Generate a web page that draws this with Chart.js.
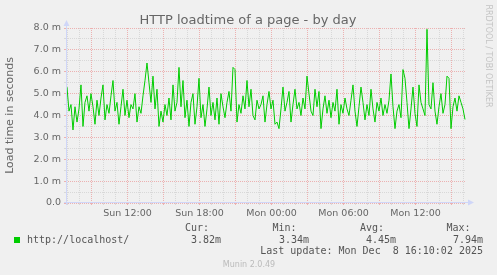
<!DOCTYPE html>
<html>
<head>
<meta charset="utf-8">
<script src="https://cdn.jsdelivr.net/npm/chart.js@4.4.1/dist/chart.umd.min.js"></script>
<style>
html, body { margin: 0; padding: 0; background: #f0f0f0; }
canvas { display: block; }
</style>
</head>
<body>
<canvas id="loadChart" width="497" height="275"></canvas>
<script>
// load time in ms, one sample every 10 minutes, starting Sun ~06:57
const loadTimes = [
    5.3, 4.2, 4.5, 3.34, 4.4, 3.7, 4.3, 5.4, 3.5, 4.6, 4.9, 4.2, 5.0, 4.4, 3.6, 4.7, 4.0, 4.8, 5.4, 3.8,
    4.5, 4.1, 4.9, 5.6, 4.2, 4.6, 3.6, 4.4, 5.2, 4.0, 4.7, 3.9, 4.5, 4.3, 5.0, 3.7, 4.4, 4.1, 4.9, 5.6,
    6.4, 5.5, 4.6, 5.8, 4.3, 5.2, 3.5, 4.2, 3.7, 4.5, 4.0, 4.8, 3.8, 5.4, 4.2, 4.6, 6.2, 4.4, 5.6, 3.9,
    4.7, 3.5, 4.6, 5.0, 3.6, 4.4, 5.7, 3.9, 4.5, 3.5, 4.3, 5.3, 4.0, 4.6, 3.8, 4.8, 3.6, 5.0, 4.4, 3.9,
    4.6, 5.1, 4.2, 6.2, 6.1, 3.7, 4.5, 4.1, 4.9, 4.3, 5.6, 4.4, 5.2, 4.0, 3.8, 4.7, 4.3, 4.5, 4.9, 3.7,
    4.5, 5.1, 4.3, 4.7, 3.6, 3.7, 3.4, 4.3, 5.3, 4.2, 4.6, 5.1, 3.7, 4.5, 5.2, 4.3, 4.6, 4.0, 4.8, 4.3,
    5.8, 5.0, 4.2, 4.0, 5.2, 4.4, 5.1, 3.4, 4.3, 4.9, 4.1, 4.7, 3.9, 4.6, 4.2, 5.2, 3.6, 4.5, 4.1, 4.8,
    4.3, 4.0, 4.7, 5.4, 4.2, 3.5, 4.4, 5.3, 4.6, 3.8, 4.5, 4.0, 5.2, 4.3, 3.7, 4.6, 4.2, 4.8, 4.0, 4.5,
    4.1, 4.7, 5.9, 4.4, 3.4, 4.2, 4.5, 3.9, 6.1, 5.7, 4.6, 3.4, 4.3, 5.3, 4.1, 3.5, 5.4, 4.6, 4.3, 4.0,
    7.94, 4.5, 4.3, 5.5, 4.2, 3.6, 4.4, 5.0, 4.1, 4.5, 5.8, 5.7, 3.4, 4.4, 4.8, 4.2, 4.9, 4.6, 4.3, 3.82
];
const startHour = 6.958;   // hours since Sun 00:00
const stepHours = 1 / 6;   // 10 minutes
const timeRange = [6.875, 40.2083];

const xTickHours = [12, 18, 24, 30, 36];
const xTickLabels = ['Sun 12:00', 'Sun 18:00', 'Mon 00:00', 'Mon 06:00', 'Mon 12:00'];
const yTickValues = [0, 1, 2, 3, 4, 5, 6, 7, 8];
const yTickLabels = ['0.0', '1.0 m', '2.0 m', '3.0 m', '4.0 m', '5.0 m', '6.0 m', '7.0 m', '8.0 m'];

const seriesName = 'http://localhost/';
const statLabels = ['Cur:', 'Min:', 'Avg:', 'Max:'];
const statValues = ['3.82m', '3.34m', '4.45m', '7.94m'];
const lastUpdate = 'Last update: Mon Dec  8 16:10:02 2025';

const FONT = '#666666';
const AXIS = '#CFD6F8';
const GRID = 'rgba(143,143,143,0.24)';
const MGRID = 'rgba(230,90,90,0.42)';
const LINE = '#00CC00';

const points = loadTimes.map((v, i) => ({ x: startHour + i * stepHours, y: v }));

const muninPlugin = {
    id: 'munin',
    afterDatasetsDraw(chart) {
        const ctx = chart.ctx;
        const a = chart.chartArea;
        ctx.save();
        ctx.strokeStyle = AXIS;
        ctx.fillStyle = AXIS;
        ctx.lineWidth = 1;
        ctx.beginPath();
        ctx.moveTo(a.left + 0.5, a.bottom + 2);
        ctx.lineTo(a.left + 0.5, a.top - 3);
        ctx.moveTo(a.left - 2, a.bottom - 0.5);
        ctx.lineTo(a.right + 3, a.bottom - 0.5);
        ctx.stroke();
        ctx.beginPath();
        ctx.moveTo(a.left - 2.5, a.top - 2);
        ctx.lineTo(a.left + 3.5, a.top - 2);
        ctx.lineTo(a.left + 0.5, a.top - 8);
        ctx.closePath();
        ctx.fill();
        ctx.beginPath();
        ctx.moveTo(a.right + 2, a.bottom - 3.5);
        ctx.lineTo(a.right + 2, a.bottom + 2.5);
        ctx.lineTo(a.right + 8, a.bottom - 0.5);
        ctx.closePath();
        ctx.fill();
        ctx.restore();
    },
    afterDraw(chart) {
        const ctx = chart.ctx;
        ctx.save();
        // title
        ctx.fillStyle = FONT;
        ctx.font = '13px "DejaVu Sans"';
        ctx.textAlign = 'center';
        ctx.textBaseline = 'alphabetic';
        ctx.fillText('HTTP loadtime of a page - by day', 248, 24);

        // watermark
        ctx.save();
        ctx.translate(488, 56);
        ctx.rotate(Math.PI / 2);
        ctx.fillStyle = '#c4c4c4';
        ctx.font = '8px "DejaVu Sans"';
        ctx.textBaseline = 'middle';
        ctx.fillText('RRDTOOL / TOBI OETIKER', 0, 0);
        ctx.restore();

        // legend
        ctx.font = '10px "DejaVu Sans Mono"';
        ctx.textBaseline = 'middle';
        ctx.fillStyle = '#555555';
        const headX = [185, 272.5, 360, 446.5];
        const valX = [221, 309, 396, 483];
        ctx.textAlign = 'left';
        statLabels.forEach((s, i) => ctx.fillText(s, headX[i], 228.5));
        ctx.fillText(seriesName, 27, 240);
        ctx.textAlign = 'right';
        statValues.forEach((s, i) => ctx.fillText(s, valX[i], 240));
        ctx.fillText(lastUpdate, 483, 251.5);
        ctx.fillStyle = LINE;
        ctx.fillRect(14, 237, 6, 6);

        // footer
        ctx.fillStyle = '#bbbbbb';
        ctx.font = '8px "DejaVu Sans"';
        ctx.textAlign = 'center';
        ctx.fillText('Munin 2.0.49', 249, 264.5);
        ctx.restore();
    }
};

new Chart(document.getElementById('loadChart'), {
    type: 'line',
    data: {
        datasets: [{
            label: seriesName,
            data: points,
            borderColor: LINE,
            borderWidth: 1,
            pointRadius: 0,
            tension: 0,
            fill: false
        }]
    },
    options: {
        responsive: false,
        animation: false,
        devicePixelRatio: 1,
        layout: { padding: { top: 28, right: 31, bottom: 0, left: 0 } },
        plugins: {
            legend: { display: false },
            tooltip: { enabled: false },
            title: { display: false }
        },
        scales: {
            x: {
                type: 'linear',
                min: timeRange[0],
                max: timeRange[1],
                afterBuildTicks: scale => {
                    const t = [];
                    for (let h = 7; h <= 40; h++) t.push({ value: h });
                    scale.ticks = t;
                },
                afterFit: scale => { scale.height = 72; },
                grid: {
                    color: c => (c.tick && c.tick.value % 3 === 0) ? MGRID : GRID,
                    tickColor: c => (c.tick && c.tick.value % 3 === 0) ? MGRID : GRID,
                    tickLength: 2,
                    lineWidth: 1
                },
                border: { display: false, dash: [1, 1] },
                ticks: {
                    autoSkip: false,
                    maxRotation: 0,
                    padding: 3,
                    color: FONT,
                    font: { family: 'DejaVu Sans', size: 9.5 },
                    callback: v => {
                        const k = xTickHours.indexOf(v);
                        return k >= 0 ? xTickLabels[k] : '';
                    }
                }
            },
            y: {
                min: 0,
                max: 8,
                afterBuildTicks: scale => {
                    const t = [];
                    for (let v = 0; v <= 8; v += 0.5) t.push({ value: v });
                    scale.ticks = t;
                },
                afterFit: scale => { scale.width = 66; },
                grid: {
                    color: c => (c.tick && Number.isInteger(c.tick.value)) ? MGRID : GRID,
                    tickColor: c => (c.tick && Number.isInteger(c.tick.value)) ? MGRID : GRID,
                    tickLength: 2,
                    lineWidth: 1
                },
                border: { display: false, dash: [1, 1] },
                title: {
                    display: true,
                    text: 'Load time in seconds',
                    color: FONT,
                    font: { family: 'DejaVu Sans', size: 11 },
                    padding: { top: 4, bottom: 0 }
                },
                ticks: {
                    autoSkip: false,
                    padding: 3,
                    color: FONT,
                    font: { family: 'DejaVu Sans', size: 9.5 },
                    callback: v => {
                        const k = yTickValues.indexOf(v);
                        return k >= 0 ? yTickLabels[k] : '';
                    }
                }
            }
        }
    },
    plugins: [muninPlugin]
});
</script>
</body>
</html>
